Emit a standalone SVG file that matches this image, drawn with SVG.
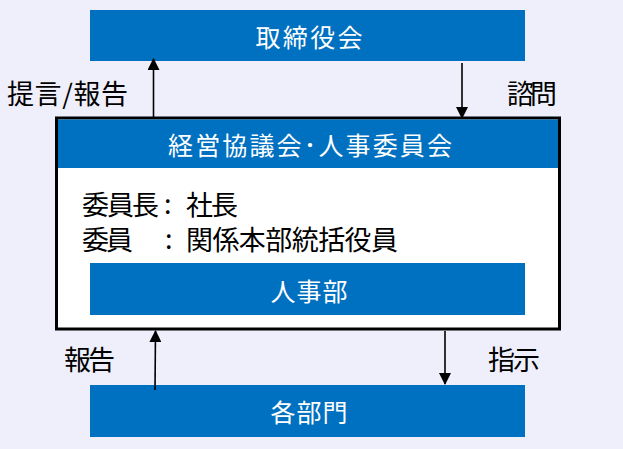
<svg xmlns="http://www.w3.org/2000/svg" width="623" height="449" viewBox="0 0 623 449">
<style>
.box{fill:#0070C0}
.wt{fill:#FFFFFF;font-family:"Noto Sans CJK JP","Noto Sans",sans-serif;font-size:25px;text-anchor:middle}
.bt{fill:#000000;font-family:"Noto Sans CJK JP","Noto Sans",sans-serif;font-size:27px}
.ln{stroke:#000000;stroke-width:1.6;fill:none}
</style>
<defs>
<marker id="ah" viewBox="0 0 12 12" refX="11" refY="6" markerWidth="12" markerHeight="12" markerUnits="userSpaceOnUse" orient="auto">
<path d="M0,0 L12,6 L0,12 Z" fill="#000000"/>
</marker>
</defs>
<rect x="0" y="0" width="623" height="449" fill="#EFEFFC"/>
<g id="board">
<rect class="box" x="90" y="10" width="435" height="51"/>
<text class="wt" x="309" y="47" textLength="107" lengthAdjust="spacing">取締役会</text>
</g>
<g id="committee">
<rect x="56.5" y="118" width="503" height="211" fill="#FFFFFF" stroke="#000000" stroke-width="3"/>
<rect class="box" x="58" y="119.5" width="500" height="48.5"/>
<text class="wt" x="310" y="155" textLength="284" lengthAdjust="spacing">経営協議会･人事委員会</text>
<text class="bt" x="82" y="215" textLength="77" lengthAdjust="spacing">委員長</text>
<text class="bt" x="164" y="214">:</text>
<text class="bt" x="186" y="215" textLength="52" lengthAdjust="spacing">社長</text>
<text class="bt" x="82" y="250" textLength="51" lengthAdjust="spacing">委員</text>
<text class="bt" x="165" y="249">:</text>
<text class="bt" x="186" y="250" textLength="212" lengthAdjust="spacing">関係本部統括役員</text>
</g>
<g id="hr">
<rect class="box" x="90" y="263" width="435" height="52"/>
<text class="wt" x="309" y="301" textLength="77" lengthAdjust="spacing">人事部</text>
</g>
<g id="departments">
<rect class="box" x="90" y="385" width="435" height="52"/>
<text class="wt" x="309" y="422" textLength="77" lengthAdjust="spacing">各部門</text>
</g>
<g id="connectors">
<line class="ln" x1="153.5" y1="117" x2="153.5" y2="59" marker-end="url(#ah)"/>
<line class="ln" x1="462" y1="63" x2="462" y2="118" marker-end="url(#ah)"/>
<line class="ln" x1="155" y1="390" x2="155.5" y2="331" marker-end="url(#ah)"/>
<line class="ln" x1="445" y1="331" x2="445" y2="384" marker-end="url(#ah)"/>
</g>
<g id="labels">
<text class="bt" x="7" y="104" textLength="121" lengthAdjust="spacing">提言/報告</text>
<text class="bt" x="507" y="104" textLength="50" lengthAdjust="spacing">諮問</text>
<text class="bt" x="64" y="370" textLength="51" lengthAdjust="spacing">報告</text>
<text class="bt" x="488" y="370" textLength="52" lengthAdjust="spacing">指示</text>
</g>
</svg>
